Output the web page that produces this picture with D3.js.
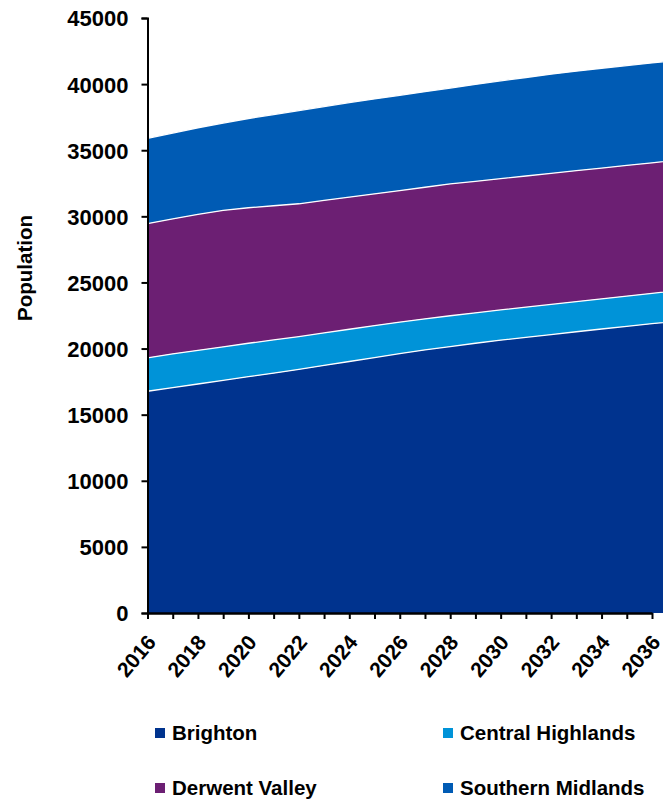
<!DOCTYPE html>
<html>
<head>
<meta charset="utf-8">
<script src="https://cdn.jsdelivr.net/npm/d3@7/dist/d3.min.js"></script>
<style>
  html, body { margin: 0; padding: 0; background: #fff; }
  svg { display: block; }
  text { font-family: "Liberation Sans", Arial, sans-serif; font-weight: bold; fill: #000; }
</style>
</head>
<body>
<svg id="chart" width="663" height="802"></svg>
<script>
// Projected population by municipality, stacked
const years = [2016, 2017, 2018, 2019, 2020, 2021, 2022, 2023, 2024, 2025, 2026,
               2027, 2028, 2029, 2030, 2031, 2032, 2033, 2034, 2035, 2036, 2037];
const brighton = [16770, 17050, 17320, 17600, 17870, 18140, 18420, 18720, 19020, 19320, 19620,
                  19900, 20150, 20400, 20630, 20850, 21060, 21270, 21480, 21680, 21880, 22070];
const centralHighlands = [2530, 2550, 2550, 2530, 2530, 2510, 2480, 2460, 2440, 2420, 2380,
                          2350, 2330, 2300, 2290, 2280, 2280, 2280, 2280, 2290, 2300, 2310];
const derwentValley = [10150, 10200, 10280, 10320, 10250, 10150, 10050, 10020, 9990, 9960, 9950,
                       9950, 9970, 9950, 9930, 9920, 9910, 9900, 9890, 9880, 9870, 9870];
const southernMidlands = [6450, 6500, 6550, 6600, 6750, 6900, 7050, 7100, 7150, 7180, 7200,
                          7230, 7250, 7330, 7400, 7450, 7500, 7530, 7550, 7550, 7550, 7550];
const seriesNames = ["Brighton", "Central Highlands", "Derwent Valley", "Southern Midlands"];
const seriesColors = ["#00338e", "#0093d8", "#6c1f73", "#005bb4"];
const yTicks = [0, 5000, 10000, 15000, 20000, 25000, 30000, 35000, 40000, 45000];
const xLabelYears = [2016, 2018, 2020, 2022, 2024, 2026, 2028, 2030, 2032, 2034, 2036];

const rows = years.map((yr, i) => ({
  year: yr,
  "Brighton": brighton[i],
  "Central Highlands": centralHighlands[i],
  "Derwent Valley": derwentValley[i],
  "Southern Midlands": southernMidlands[i]
}));

const svg = d3.select("#chart");
const x0 = 147.5, y0 = 613, yTop = 18;

const x = d3.scaleLinear().domain([2016, 2036]).range([x0, 652]);
const y = d3.scaleLinear().domain([0, 45000]).range([y0, yTop]);

const stacked = d3.stack().keys(seriesNames)(rows);

const area = d3.area()
  .x(d => x(d.data.year))
  .y0(d => y(d[0]))
  .y1(d => y(d[1]));

const topLine = d3.line()
  .x(d => x(d.data.year))
  .y(d => y(d[1]));

const plot = svg.append("g");
plot.selectAll("path.area")
  .data(stacked)
  .join("path")
  .attr("class", "area")
  .attr("fill", (d, i) => seriesColors[i])
  .attr("d", area);

// thin white borders between the layers
plot.selectAll("path.edge")
  .data(stacked)
  .join("path")
  .attr("class", "edge")
  .attr("fill", "none")
  .attr("stroke", "#fff")
  .attr("stroke-width", 1.3)
  .attr("d", topLine);

// Y axis
const yAxis = svg.append("g")
  .attr("transform", `translate(${x0},0)`)
  .call(d3.axisLeft(y).tickValues(yTicks).tickFormat(d3.format("d")).tickSize(6).tickPadding(13));
yAxis.select(".domain").attr("stroke", "#000").attr("stroke-width", 2);
yAxis.selectAll(".tick line").attr("stroke", "#000").attr("stroke-width", 2);
yAxis.selectAll(".tick text").style("font-size", "22px").attr("dy", "0.36em");

// X axis
const xAxis = svg.append("g")
  .attr("transform", `translate(0,${y0})`)
  .call(d3.axisBottom(x).tickValues(years).tickFormat(d => xLabelYears.includes(d) ? String(d) : "").tickSize(6).tickSizeOuter(0));
xAxis.select(".domain").attr("stroke", "#000").attr("stroke-width", 2.5);
xAxis.selectAll(".tick line").attr("stroke", "#000").attr("stroke-width", 2);
xAxis.selectAll(".tick text")
  .style("font-size", "21px")
  .attr("text-anchor", "end")
  .attr("dx", "0")
  .attr("dy", "0")
  .attr("transform", "translate(2,24) rotate(-50)");

// Axis title
svg.append("text")
  .attr("transform", "translate(32,268) rotate(-90)")
  .attr("text-anchor", "middle")
  .style("font-size", "20.5px")
  .text("Population");

// Legend
const legendPos = [[155, 733], [443, 733], [155, 788], [443, 788]];
const legend = svg.append("g");
seriesNames.forEach((name, i) => {
  const [lx, ly] = legendPos[i];
  legend.append("rect")
    .attr("x", lx).attr("y", ly - 5)
    .attr("width", 10).attr("height", 10)
    .attr("fill", seriesColors[i]);
  legend.append("text")
    .attr("x", lx + 17).attr("y", ly)
    .attr("dy", "0.36em")
    .style("font-size", "20.5px")
    .text(name);
});
</script>
</body>
</html>
